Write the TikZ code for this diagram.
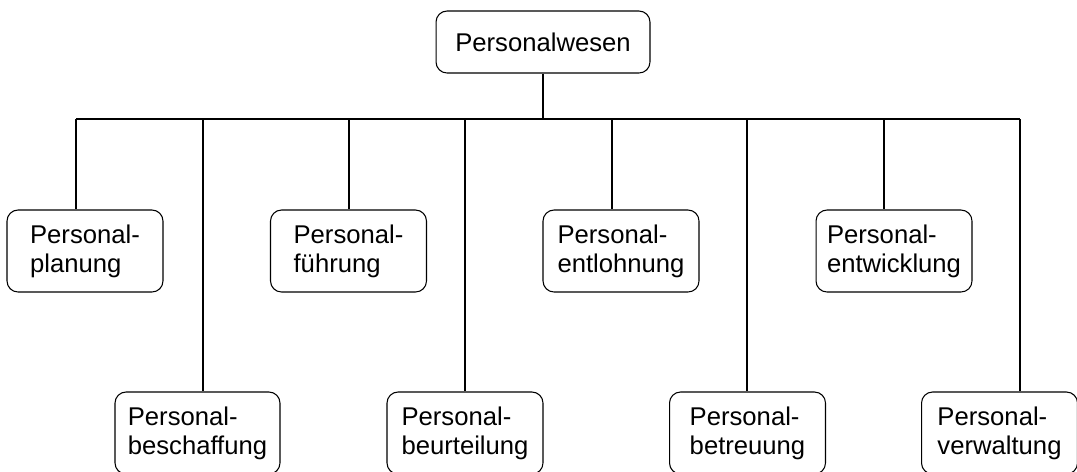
\documentclass[tikz,border=0pt]{standalone}
\usepackage{fontspec}
\setmainfont{Liberation Sans}

\tikzset{
  unit/.style={draw, rounded corners=0.22cm, align=left, inner sep=2pt,
    font=\fontsize{14.6}{16.5}\selectfont,
    minimum width=3.12cm, minimum height=1.64cm},
}

\begin{document}
\begin{tikzpicture}[x = 0.02cm, y = -0.02cm, line width = 0.6pt]
    \useasboundingbox (0,0) rectangle (1077,471);
    % head
    \node[unit, minimum width = 4.28cm, minimum height = 1.24cm] (PW) at (543,42) {Personalwesen};
    % upper row
    \node[unit] (PL) at (85,251) {Personal-\\planung};
    \node[unit] (PF) at (348.5,251) {Personal-\\führung};
    \node[unit] (PE) at (621,251) {Personal-\\entlohnung};
    \node[unit] (PD) at (894,251) {Personal-\\entwicklung};
    % lower row
    \node[unit, minimum width = 3.3cm] (PB) at (197.5,433) {Personal-\\beschaffung};
    \node[unit] (PU) at (465,433) {Personal-\\beurteilung};
    \node[unit] (PT) at (747.5,433) {Personal-\\betreuung};
    \node[unit] (PV) at (999.5,433) {Personal-\\verwaltung};
    % bus
    \coordinate (B1) at (76,119);   \coordinate (B2) at (203,119);
    \coordinate (B3) at (349,119);  \coordinate (B4) at (465,119);
    \coordinate (B5) at (612,119);  \coordinate (B6) at (747,119);
    \coordinate (B7) at (884,119);  \coordinate (B8) at (1020,119);
    \draw (PW.south) -- (PW.south |- B1) (B1) -- (B8);
    \foreach \b/\n in {B1/PL, B2/PB, B3/PF, B4/PU, B5/PE, B6/PT, B7/PD, B8/PV}
        \draw (\b) -- (\b |- \n.north);
\end{tikzpicture}
\end{document}
